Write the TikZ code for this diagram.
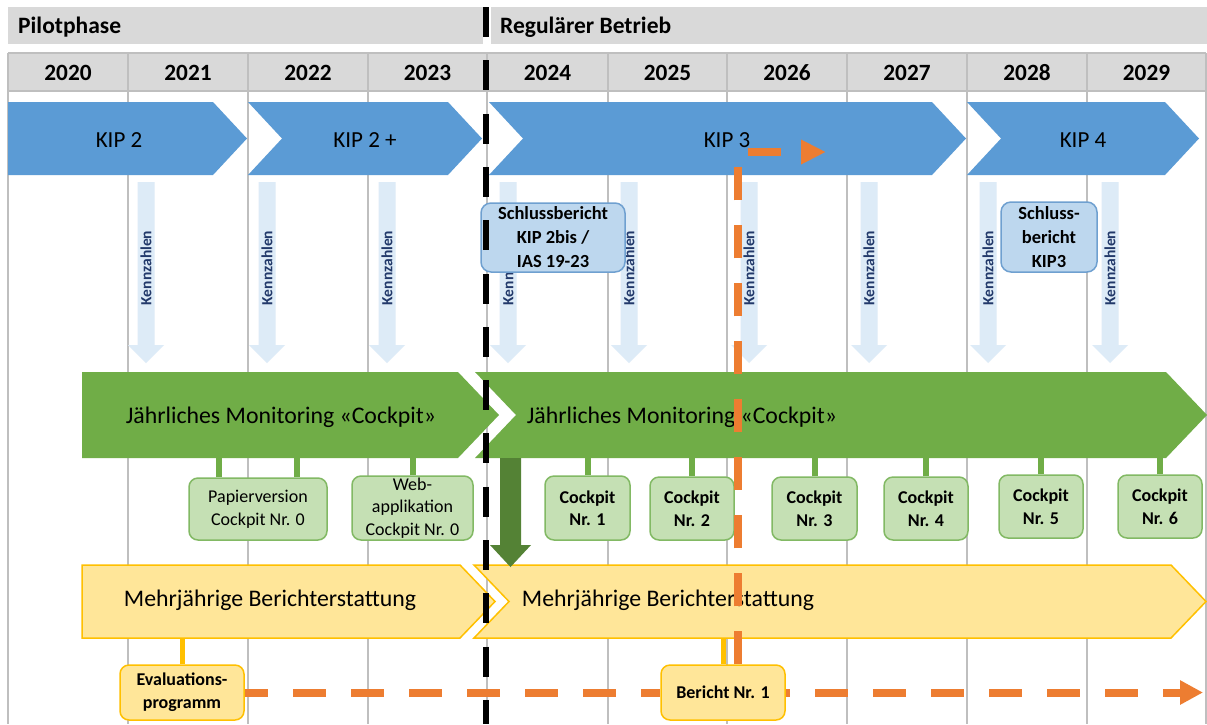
\documentclass[tikz,border=0pt]{standalone}
\usepackage{fontspec}
\setmainfont{Carlito}
\usetikzlibrary{arrows.meta}
\definecolor{hdrgray}{HTML}{D9D9D9}
\definecolor{gridgray}{HTML}{BFBFBF}
\definecolor{kipblue}{HTML}{5B9BD5}
\definecolor{kzfill}{HTML}{DDEBF7}
\definecolor{kztext}{HTML}{22396A}
\definecolor{sbfill}{HTML}{BDD7EE}
\definecolor{sbdraw}{HTML}{6FA0D0}
\definecolor{grn}{HTML}{70AD47}
\definecolor{cpfill}{HTML}{C5E0B4}
\definecolor{cpdraw}{HTML}{82B964}
\definecolor{dkgrn}{HTML}{548235}
\definecolor{ylwfill}{HTML}{FFE699}
\definecolor{ylwdraw}{HTML}{FFC000}
\definecolor{orng}{HTML}{ED7D31}
\newcommand\mychevA[6]{\path[#1] (#2,#4) -- ({#3-#6},#4) -- (#3,{(#4+#5)/2}) -- ({#3-#6},#5) -- (#2,#5) -- cycle;}
\newcommand\mychevB[6]{\path[#1] (#2,#4) -- ({#3-#6},#4) -- (#3,{(#4+#5)/2}) -- ({#3-#6},#5) -- (#2,#5) -- ({#2+#6},{(#4+#5)/2}) -- cycle;}
\newcommand\kzarrow[2]{%
  \fill[kzfill] ({#2-8.5},182) -- ({#2+8.5},182) -- ({#2+8.5},345) -- ({#2+18},345) -- (#2,363) -- ({#2-18},345) -- ({#2-8.5},345) -- cycle;
  \node[kz] (#1) at (#2,268) {Kennzahlen};}
\begin{document}
\begin{tikzpicture}[x=1pt,y=-1pt,
  hdrtxt/.style={font=\bfseries\fontsize{23.5}{28}\selectfont, inner sep=0pt},
  yrtxt/.style={font=\bfseries\fontsize{23.3}{28}\selectfont, inner sep=0pt},
  kiptxt/.style={font=\fontsize{23}{28}\selectfont, inner sep=0pt},
  bartxt/.style={font=\fontsize{23.8}{28}\selectfont, inner sep=0pt},
  kz/.style={font=\bfseries\fontsize{15.5}{18}\selectfont, text=kztext, rotate=90, inner sep=0pt},
  gridline/.style={draw=gridgray, line width=1.5pt},
  sbox/.style={draw=sbdraw, fill=sbfill, rounded corners=10pt, line width=1.5pt, align=center, inner sep=0pt, font=\bfseries\fontsize{18.5}{24}\selectfont},
  cbox/.style={draw=cpdraw, fill=cpfill, rounded corners=9pt, line width=1.5pt, align=center, inner sep=0pt, font=\bfseries\fontsize{18}{22.5}\selectfont},
  cboxn/.style={cbox, font=\fontsize{18}{23}\selectfont},
  ybox/.style={draw=ylwdraw, fill=ylwfill, rounded corners=9pt, line width=1.5pt, align=center, inner sep=0pt, font=\bfseries\fontsize{18}{23}\selectfont},
  gstub/.style={draw=grn, line width=6pt},
  ystub/.style={draw=ylwdraw, line width=5pt},
  odash/.style={draw=orng, line width=8pt, dash pattern=on 33pt off 25pt}
]
\useasboundingbox (0,0) rectangle (1207,724);
\fill[white] (0,0) rectangle (1207,724);
% header bars
\fill[hdrgray] (8,7) rectangle (483,44);
\fill[hdrgray] (491,7) rectangle (1207,44);
\node[hdrtxt, anchor=base west] (pilot) at (18,33) {Pilotphase};
\node[hdrtxt, anchor=base west] (regb) at (500,33) {Regulärer Betrieb};
% year row and grid
\fill[hdrgray] (8,53) rectangle (1206,91);
\foreach \x in {8,128,248,368,487,608,727,847,967,1087,1206} \draw[gridline] (\x,53) -- (\x,724);
\draw[gridline] (8,53) -- (1206,53);
\draw[gridline] (8,91) -- (1206,91);
\foreach \yr/\x in {2020/68,2021/188,2022/308,2023/427.5,2024/547.5,2025/667.5,2026/787,2027/907,2028/1027,2029/1146.5}
  \node[yrtxt, anchor=base] (y\yr) at (\x,80) {\yr};
% KIP chevrons
\mychevA{fill=kipblue}{8}{247}{102}{175}{34}
\mychevB{fill=kipblue}{248}{482}{102}{175}{34}
\mychevB{fill=kipblue}{489}{966}{102}{175}{34}
\mychevB{fill=kipblue}{967}{1199}{102}{175}{34}
\node[kiptxt, anchor=base] (kip2) at (119,147) {KIP 2};
\node[kiptxt, anchor=base] (kip2p) at (365,147) {KIP 2 +};
\node[kiptxt, anchor=base] (kip3) at (727,147) {KIP 3};
\node[kiptxt, anchor=base] (kip4) at (1083,147) {KIP 4};
% Kennzahlen arrows
\kzarrow{kz1}{146}
\kzarrow{kz2}{267}
\kzarrow{kz3}{387}
\kzarrow{kz4}{508}
\kzarrow{kz5}{629}
\kzarrow{kz6}{749}
\kzarrow{kz7}{869}
\kzarrow{kz8}{988}
\kzarrow{kz9}{1110}
% Schlussbericht boxes
\node[sbox, minimum width=144pt, minimum height=69pt] (sb1) at (553,237.5) {Schlussbericht\\KIP 2bis /\\IAS 19-23};
\node[sbox, minimum width=96pt, minimum height=70pt] (sb2) at (1049,237) {Schluss-\\bericht\\KIP3};
% green monitoring chevrons
\mychevA{fill=grn}{82}{499}{372}{458}{41}
\mychevB{fill=grn}{475}{1207}{372}{458}{41}
\node[bartxt, anchor=base] (mon1) at (281,423) {Jährliches Monitoring «Cockpit»};
\node[bartxt, anchor=base] (mon2) at (682,423) {Jährliches Monitoring «Cockpit»};
\coordinate (monb) at (0,458);
% cockpit boxes
\node[cboxn, minimum width=138pt, minimum height=62pt] (pv) at (258,509) {Papierversion\\Cockpit Nr. 0};
\node[cboxn, minimum width=121pt, minimum height=64pt, font=\fontsize{18}{22.5}\selectfont] (web) at (412.5,508) {Web-\\applikation\\Cockpit Nr. 0};
\node[cbox, minimum width=85pt, minimum height=64pt] (c1) at (587.5,508) {Cockpit\\Nr. 1};
\node[cbox, minimum width=84pt, minimum height=63pt] (c2) at (692,508.5) {Cockpit\\Nr. 2};
\node[cbox, minimum width=85pt, minimum height=63pt] (c3) at (814.5,508.5) {Cockpit\\Nr. 3};
\node[cbox, minimum width=84pt, minimum height=63pt] (c4) at (926,508.5) {Cockpit\\Nr. 4};
\node[cbox, minimum width=84pt, minimum height=63pt] (c5) at (1041,506.5) {Cockpit\\Nr. 5};
\node[cbox, minimum width=84pt, minimum height=63pt] (c6) at (1160,506.5) {Cockpit\\Nr. 6};
\draw[gstub] ([xshift=-39pt]pv.north) -- ([xshift=-39pt]pv.north |- monb);
\draw[gstub] ([xshift=39pt]pv.north) -- ([xshift=39pt]pv.north |- monb);
\foreach \n in {web,c1,c2,c3,c4,c5,c6} \draw[gstub] (\n.north) -- (\n.north |- monb);
% yellow chevrons
\mychevA{fill=ylwfill, draw=ylwdraw, line width=1.5pt}{82}{495}{565}{638}{35}
\mychevB{fill=ylwfill, draw=ylwdraw, line width=1.5pt}{474}{1206}{565}{638}{35}
\node[bartxt, anchor=base] (ber1) at (270,606) {Mehrjährige Berichterstattung};
\node[bartxt, anchor=base] (ber2) at (668,606) {Mehrjährige Berichterstattung};
\coordinate (yelb) at (0,638);
% dark green arrow
\fill[dkgrn] (500,458) -- (521,458) -- (521,545) -- (531,545) -- (510.5,567) -- (490,545) -- (500,545) -- cycle;
% evaluation / bericht boxes
\node[ybox, minimum width=124pt, minimum height=55pt] (eval) at (182,692.5) {Evaluations-\\programm};
\node[ybox, minimum width=124pt, minimum height=55pt] (ber) at (723,692.5) {Bericht Nr. 1};
\draw[ystub] (eval.north) -- (eval.north |- yelb);
\draw[ystub] (ber.north) -- (ber.north |- yelb);
% orange horizontal dashed
\coordinate (oend) at (1203,692.5);
\draw[odash, dash phase=9.5pt] (eval.east) -- (ber.west);
\draw[odash, dash phase=28.5pt, -{Triangle[length=23pt,width=23pt]}] (ber.east) -- (oend);
% black dashed divider
\coordinate (divtop) at (486,7);
\coordinate (divbot) at (486,724);
\draw[line width=6pt, dash pattern=on 30pt off 23.3pt] (divtop) -- (divbot);
% orange vertical dashed
\coordinate (kipmark) at (826,152);
\draw[odash, -{Triangle[length=25pt,width=23pt]}] ([xshift=15pt]ber.north) |- (kipmark);
\end{tikzpicture}
\end{document}
